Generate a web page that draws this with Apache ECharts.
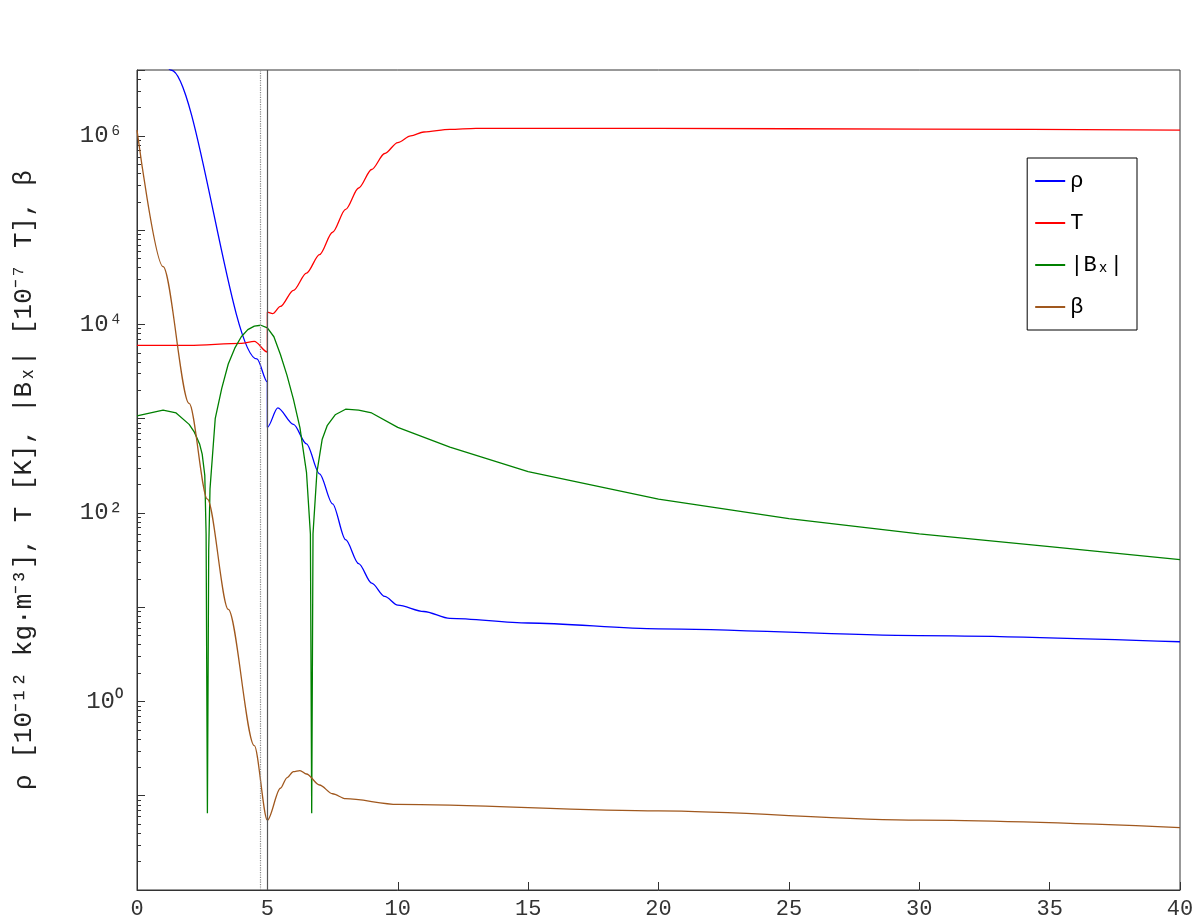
<!DOCTYPE html>
<html>
<head>
<meta charset="utf-8">
<script src="https://cdn.jsdelivr.net/npm/echarts@6/dist/echarts.min.js"></script>
<style>html,body{margin:0;background:#fff}#c{width:1200px;height:924px}</style>
</head>
<body>
<div id="c"></div>
<script>
// data (y in Mm)
var rhoX = [0, 1.3, 4.6, 5.0, 5.0, 5.4, 6, 6.5, 7, 7.5, 8, 8.5, 9, 9.5, 10, 11, 12, 15, 20, 30, 40];
var rhoV = [8e7, 5e6, 4300, 2450, 810, 1300, 870, 540, 260, 125, 52, 29, 18, 13, 10.5, 9, 7.6, 6.8, 5.9, 5.0, 4.3];
var tX = [0, 2, 4, 4.5, 5, 5, 5.2, 5.5, 6, 6.5, 7, 7.5, 8, 8.5, 9, 9.5, 10, 10.5, 11, 12, 13, 20, 30, 40];
var tV = [6000, 6000, 6300, 6600, 5100, 13500, 13000, 15500, 23000, 35000, 55000, 95000, 166000, 280000, 440000, 650000, 850000, 1000000, 1100000, 1170000, 1200000, 1200000, 1180000, 1150000];
var bxX = [0, 1, 1.5, 2, 2.2, 2.4, 2.5, 2.6, 2.65, 2.7, 2.75, 2.8, 3, 3.25, 3.5, 3.75, 4, 4.25, 4.5, 4.75, 5, 5.25, 5.5, 5.75, 6, 6.25, 6.5, 6.65, 6.7, 6.75, 6.9, 7.1, 7.3, 7.6, 8, 8.5, 9, 10, 12, 15, 20, 25, 30, 35, 40];
var bxV = [1070, 1230, 1150, 870, 720, 540, 420, 250, 60, 0.065, 40, 180, 1000, 2100, 3800, 5600, 7400, 8800, 9600, 9800, 9200, 7400, 4800, 2900, 1600, 800, 270, 60, 0.065, 60, 270, 600, 850, 1100, 1260, 1230, 1150, 810, 500, 275, 140, 87, 60, 44, 32];
var betaX = [0, 1, 2, 2.7, 3.5, 4.5, 5, 5.5, 5.75, 6, 6.25, 6.5, 7, 7.5, 8, 10, 20, 30, 40];
var betaV = [1.15e6, 41000, 1450, 140, 9.5, 0.34, 0.055, 0.12, 0.155, 0.18, 0.185, 0.17, 0.13, 0.105, 0.093, 0.081, 0.069, 0.055, 0.046];

function pairs(xs, vs) { return xs.map(function (x, i) { return [x, vs[i]]; }); }

var font = 'Liberation Mono';
var chart = echarts.init(document.getElementById('c'));
function ser(name, xs, vs, color, smooth) {
  return { name: name, type: 'line', data: pairs(xs, vs), showSymbol: false, symbol: 'none',
    smooth: smooth, smoothMonotone: 'x',
    lineStyle: { color: color, width: 1.3 }, itemStyle: { color: color }, clip: true };
}
var sups = { '-': '⁻', '0': '⁰', '1': '¹', '2': '²', '3': '³', '4': '⁴', '5': '⁵', '6': '⁶', '7': '⁷', '8': '⁸', '9': '⁹' };
var series = [
  ser('ρ', rhoX, rhoV, '#0000ff', 0.3),
  ser('T', tX, tV, '#ff0000', 0.3),
  ser('|Bₓ|', bxX, bxV, '#008000', false),
  ser('β', betaX, betaV, '#a0581e', 0.3)
];
series[0].markLine = {
  silent: true, symbol: 'none', label: { show: false },
  data: [
    { xAxis: 5, lineStyle: { color: '#555', type: 'solid', width: 1.2 } },
    { xAxis: 4.72, lineStyle: { color: '#888', type: 'dotted', width: 1.2 } }
  ]
};
chart.setOption({
  animation: false,
  textStyle: { fontFamily: font },
  grid: { left: 137, right: 20, top: 70, bottom: 34, outerBoundsMode: 'none', containLabel: false,
    show: true, borderColor: '#333', borderWidth: 1 },
  legend: {
    orient: 'vertical', right: 63, top: 158, padding: [12, 14, 12, 8], itemGap: 20,
    borderColor: '#000', borderWidth: 1, backgroundColor: '#fff',
    itemWidth: 30, itemHeight: 2, icon: 'rect',
    textStyle: { fontFamily: font, fontSize: 22, color: '#000' }
  },
  xAxis: {
    type: 'value', min: 0, max: 40, interval: 5,
    name: 'y [Mm]', nameLocation: 'middle', nameGap: 28,
    nameTextStyle: { fontSize: 26, color: '#222', fontFamily: font },
    axisLine: { lineStyle: { color: '#333' } },
    axisTick: { inside: true, length: 8, lineStyle: { color: '#333' } },
    axisLabel: { fontSize: 22, color: '#333', margin: 8 },
    splitLine: { show: false }
  },
  yAxis: {
    type: 'log', logBase: 10, min: 0.01, max: 5e6,
    name: 'ρ [10⁻¹² kg·m⁻³], T [K], |Bₓ| [10⁻⁷ T], β',
    nameLocation: 'middle', nameGap: 100, nameRotate: 90,
    nameTextStyle: { fontSize: 26, color: '#222', fontFamily: font },
    axisLine: { lineStyle: { color: '#333' } },
    axisTick: { inside: true, length: 8, lineStyle: { color: '#333' } },
    minorTick: { show: true, splitNumber: 9, length: 4, lineStyle: { color: '#333' } },
    axisLabel: {
      fontSize: 24, color: '#333', margin: 14,
      formatter: function (v) {
        var e = Math.round(Math.log10(v));
        if (e % 2 !== 0 || e < 0) return '';
        return '10' + String(e).split('').map(function (c) { return sups[c]; }).join('');
      }
    },
    splitLine: { show: false }
  },
  series: series
});
</script>
</body>
</html>
